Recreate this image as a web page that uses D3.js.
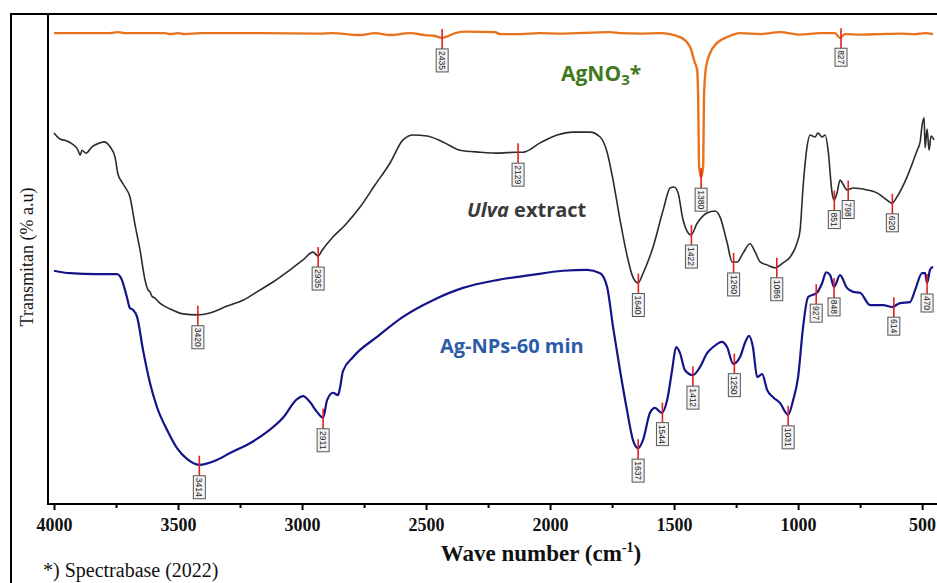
<!DOCTYPE html>
<html>
<head>
<meta charset="utf-8">
<script src="https://cdn.jsdelivr.net/npm/d3@7"></script>
<style>
  body { margin: 0; background: #fff; }
  svg { display: block; }
</style>
</head>
<body>
<svg id="chart"></svg>
<script>
// FTIR spectra: [wavenumber (cm-1), transmittance (% a.u.)]
const agno3 = [
  [4000, 96.1], [3895, 96.1], [3774, 96.1], [3742, 96.3], [3714, 96.1], [3552, 96.1],
  [3532, 95.9], [3500, 96.1], [3472, 95.9], [3411, 96.1], [3170, 96.1], [2927, 96.0],
  [2880, 96.1], [2766, 95.7], [2706, 96.1], [2645, 95.7], [2565, 96.1], [2504, 95.7],
  [2464, 95.5], [2436, 95.1], [2411, 95.5], [2383, 96.1], [2343, 96.4], [2222, 96.3],
  [2202, 95.9], [2121, 95.9], [2040, 96.1], [1960, 96.0], [1758, 96.3], [1718, 96.1],
  [1637, 96.0], [1557, 96.1], [1476, 95.3], [1436, 93.3], [1416, 90.0], [1407, 88.6],
  [1403, 83.1], [1399, 68.8], [1391, 66.7], [1383, 68.8], [1379, 83.9], [1371, 89.2],
  [1355, 92.0], [1327, 94.1], [1286, 95.3], [1234, 96.1], [1153, 95.9], [1073, 96.3],
  [992, 95.8], [911, 96.1], [851, 96.1], [831, 95.1], [811, 95.9], [750, 95.8],
  [670, 95.9], [589, 96.0], [528, 95.9], [488, 96.1], [456, 95.9]
];

const ulva = [
  [4000, 75.7], [3976, 74.5], [3948, 74.1], [3927, 73.5], [3903, 72.2], [3895, 71.2],
  [3887, 72.2], [3871, 71.6], [3847, 72.9], [3815, 73.7], [3798, 73.9], [3774, 72.9],
  [3754, 70.8], [3742, 67.3], [3726, 65.7], [3714, 64.7], [3694, 62.7], [3673, 56.9],
  [3653, 51.8], [3633, 45.7], [3621, 43.7], [3613, 43.3], [3605, 42.4], [3593, 42.0],
  [3573, 41.0], [3532, 39.8], [3480, 38.8], [3423, 38.6], [3371, 39.0], [3302, 40.4],
  [3238, 41.6], [3169, 43.7], [3117, 45.3], [3048, 47.8], [2996, 49.8], [2956, 51.4],
  [2935, 50.6], [2919, 51.8], [2879, 54.3], [2827, 56.9], [2766, 60.6], [2706, 65.1],
  [2645, 69.6], [2593, 74.3], [2552, 75.3], [2496, 75.1], [2432, 73.9], [2363, 72.2],
  [2282, 71.8], [2202, 71.6], [2141, 71.8], [2109, 71.8], [2040, 73.7], [1972, 75.3],
  [1907, 75.9], [1839, 75.9], [1798, 74.9], [1770, 71.8], [1746, 66.1], [1718, 58.0],
  [1690, 50.8], [1666, 46.3], [1645, 45.1], [1625, 47.1], [1585, 52.4], [1544, 60.0],
  [1516, 64.5], [1500, 64.7], [1484, 63.5], [1464, 58.0], [1432, 54.9], [1407, 57.3],
  [1367, 59.4], [1335, 59.8], [1315, 58.6], [1286, 53.3], [1266, 49.4], [1246, 49.4],
  [1222, 51.2], [1194, 53.1], [1173, 51.4], [1153, 49.4], [1125, 48.8], [1093, 48.2],
  [1061, 49.2], [1032, 50.4], [1004, 53.3], [992, 55.9], [980, 64.7], [964, 72.9],
  [952, 75.3], [932, 74.9], [920, 75.7], [903, 74.9], [891, 75.3], [879, 72.2],
  [863, 63.5], [855, 62.0], [843, 63.5], [831, 66.1], [819, 65.3], [803, 64.1],
  [778, 64.5], [722, 64.1], [682, 63.5], [641, 62.0], [621, 61.4], [601, 62.7],
  [561, 66.7], [520, 72.2], [508, 73.9], [500, 77.3], [492, 78.8], [488, 72.7],
  [480, 76.5], [472, 72.2], [464, 75.1], [452, 74.3]
];

const agnp = [
  [4000, 47.6], [3935, 47.1], [3827, 46.9], [3746, 46.9], [3726, 45.7], [3706, 42.2],
  [3694, 40.0], [3681, 39.6], [3665, 38.2], [3641, 31.4], [3613, 24.7], [3585, 19.8],
  [3544, 15.1], [3504, 11.4], [3464, 9.2], [3415, 8.0], [3343, 9.0], [3290, 10.4],
  [3210, 12.4], [3141, 14.7], [3077, 17.6], [3020, 21.4], [2996, 22.0], [2968, 20.8],
  [2940, 18.8], [2915, 17.6], [2899, 21.2], [2875, 22.7], [2855, 22.2], [2847, 23.7],
  [2835, 27.1], [2794, 30.0], [2698, 34.1], [2593, 38.2], [2472, 41.6], [2351, 44.1],
  [2214, 45.7], [2081, 46.7], [1948, 47.6], [1851, 47.8], [1798, 47.1], [1770, 44.3],
  [1746, 36.1], [1718, 27.3], [1690, 19.2], [1666, 13.1], [1645, 11.4], [1625, 13.1],
  [1597, 18.6], [1577, 19.6], [1549, 18.6], [1528, 21.2], [1508, 27.3], [1492, 32.0],
  [1476, 30.8], [1456, 27.3], [1424, 26.3], [1395, 28.0], [1367, 30.8], [1343, 32.0],
  [1307, 33.1], [1286, 32.0], [1262, 28.6], [1234, 30.0], [1214, 32.9], [1198, 34.3],
  [1182, 32.0], [1165, 25.9], [1145, 26.5], [1125, 23.3], [1101, 21.8], [1073, 20.6],
  [1040, 18.2], [1020, 21.2], [1000, 25.9], [980, 36.1], [960, 42.2], [924, 43.1],
  [903, 45.1], [887, 47.3], [871, 46.7], [855, 44.3], [831, 46.7], [803, 44.1],
  [778, 43.3], [750, 43.1], [710, 40.6], [657, 40.6], [621, 40.2], [589, 41.0],
  [549, 41.2], [528, 43.7], [500, 47.1], [488, 47.1], [480, 45.1], [468, 47.8], [456, 48.4]
];

// peak labels
const agno3Peaks = [2435, 1380, 827];
const ulvaPeaks = [3420, 2935, 2129, 1640, 1422, 1260, 1086, 851, 798, 620];
const agnpPeaks = [3414, 2911, 1637, 1544, 1412, 1250, 1031, 927, 848, 614, 470];

const xTicks = [4000, 3500, 3000, 2500, 2000, 1500, 1000, 500];
const xMinorTicks = [3750, 3250, 2750, 2250, 1750, 1250, 750];

const width = 937, height = 583;
const plot = { left: 48, top: 14, right: 937, bottom: 504 };
const serif = '"Liberation Serif", "Times New Roman", serif';

const svg = d3.select('#chart')
  .attr('width', width)
  .attr('height', height);

const x = d3.scaleLinear().domain([4000, 440]).range([54, 937]);
const y = d3.scaleLinear().domain([0, 100]).range([plot.bottom, plot.top]);

svg.append('clipPath').attr('id', 'clip')
  .append('rect')
  .attr('x', plot.left).attr('y', plot.top)
  .attr('width', plot.right - plot.left).attr('height', plot.bottom - plot.top);

// outer frame
svg.append('path')
  .attr('d', `M11,${height} L11,14 L${width},14`)
  .attr('fill', 'none')
  .attr('stroke', '#000')
  .attr('stroke-width', 2);

// axes
const xAxis = d3.axisBottom(x).tickValues(xTicks).tickSize(6).tickPadding(8)
  .tickFormat(d3.format('d'));
const gx = svg.append('g')
  .attr('transform', `translate(0,${plot.bottom})`)
  .call(xAxis);
gx.select('.domain').remove();
gx.selectAll('.tick line').attr('stroke-width', 2);
gx.selectAll('.tick text')
  .attr('font-family', serif)
  .attr('font-size', 18)
  .attr('font-weight', 'bold')
  .attr('fill', '#111');

const gxMinor = svg.append('g')
  .attr('transform', `translate(0,${plot.bottom})`)
  .call(d3.axisBottom(x).tickValues(xMinorTicks).tickSize(4).tickFormat(''));
gxMinor.select('.domain').remove();
gxMinor.selectAll('.tick line').attr('stroke-width', 2);

svg.append('path')
  .attr('d', `M${plot.left},${plot.top} L${plot.left},${plot.bottom} L${plot.right},${plot.bottom}`)
  .attr('fill', 'none')
  .attr('stroke', '#000')
  .attr('stroke-width', 2);

// axis titles
const xTitle = svg.append('text')
  .attr('x', 541).attr('y', 561)
  .attr('text-anchor', 'middle')
  .attr('font-family', serif)
  .attr('font-size', 23)
  .attr('font-weight', 'bold')
  .attr('fill', '#111')
  .text('Wave number (cm');
xTitle.append('tspan').attr('dy', -9).attr('font-size', 14).text('-1');
xTitle.append('tspan').attr('dy', 9).text(')');

svg.append('text')
  .attr('transform', 'translate(33,257) rotate(-90)')
  .attr('text-anchor', 'middle')
  .attr('font-family', serif)
  .attr('font-size', 18)
  .attr('fill', '#111')
  .text('Transmitan (% a.u)');

svg.append('text')
  .attr('x', 43).attr('y', 577)
  .attr('font-family', serif)
  .attr('font-size', 20)
  .attr('fill', '#111')
  .text('*) Spectrabase (2022)');

// spectra
const line = d3.line()
  .x(d => x(d[0]))
  .y(d => y(d[1]))
  .curve(d3.curveMonotoneX);

const series = [
  { data: agno3, color: '#e8731c', width: 2.4, peaks: agno3Peaks },
  { data: ulva, color: '#2b2b2b', width: 1.6, peaks: ulvaPeaks },
  { data: agnp, color: '#14148a', width: 2.2, peaks: agnpPeaks }
];

const curves = svg.append('g').attr('clip-path', 'url(#clip)');
series.forEach(s => {
  curves.append('path')
    .datum(s.data)
    .attr('fill', 'none')
    .attr('stroke', s.color)
    .attr('stroke-width', s.width)
    .attr('stroke-linejoin', 'round')
    .attr('d', line);
});

// linear interpolation of a spectrum (descending wavenumbers)
function valueAt(data, wn) {
  const i = d3.bisector(d => -d[0]).left(data, -wn);
  if (i <= 0) return data[0][1];
  if (i >= data.length) return data[data.length - 1][1];
  const a = data[i - 1], b = data[i];
  const t = (a[0] - wn) / (a[0] - b[0]);
  return a[1] + t * (b[1] - a[1]);
}

// find local minimum near the labelled wavenumber
function peakAt(data, wn) {
  let best = [wn, valueAt(data, wn)];
  for (let w = wn - 12; w <= wn + 12; w += 1) {
    const v = valueAt(data, w);
    if (v < best[1] - 0.3) best = [w, v];
  }
  return best;
}

const labels = svg.append('g');
series.forEach(s => {
  s.peaks.forEach(p => {
    const [pw, pv] = peakAt(s.data, p);
    const px = x(pw), py = y(pv);
    const txt = String(p);
    const boxH = txt.length > 3 ? 23 : 18;
    const boxW = 12;
    const boxTop = py + 11;
    labels.append('line')
      .attr('x1', px).attr('x2', px)
      .attr('y1', py - 9).attr('y2', boxTop)
      .attr('stroke', '#e0201c')
      .attr('stroke-width', 1.6);
    labels.append('rect')
      .attr('x', px - boxW / 2).attr('y', boxTop)
      .attr('width', boxW).attr('height', boxH)
      .attr('fill', '#f3f3f3')
      .attr('stroke', '#555')
      .attr('stroke-width', 1);
    labels.append('text')
      .attr('transform', `translate(${px},${boxTop + boxH / 2}) rotate(90)`)
      .attr('text-anchor', 'middle')
      .attr('dy', '0.35em')
      .attr('font-family', '"Liberation Sans", Arial, sans-serif')
      .attr('font-size', 8.5)
      .attr('fill', '#222')
      .text(txt);
  });
});

// series names
const agText = svg.append('text')
  .attr('x', 561).attr('y', 81)
  .attr('font-family', '"Open Sans", sans-serif')
  .attr('font-size', 21)
  .attr('font-weight', 'bold')
  .attr('fill', '#3f7a1e')
  .text('AgNO');
agText.append('tspan').attr('dy', 4).attr('font-size', 15).text('3');
agText.append('tspan').attr('dy', -4).text('*');

const ulvaText = svg.append('text')
  .attr('x', 467).attr('y', 217)
  .attr('font-family', '"Open Sans", sans-serif')
  .attr('font-size', 20)
  .attr('font-weight', 'bold')
  .attr('fill', '#3a3a3a');
ulvaText.append('tspan').attr('font-style', 'italic').text('Ulva');
ulvaText.append('tspan').text(' extract');

svg.append('text')
  .attr('x', 440).attr('y', 353)
  .attr('font-family', '"Open Sans", sans-serif')
  .attr('font-size', 20)
  .attr('font-weight', 'bold')
  .attr('fill', '#2c5ba8')
  .text('Ag-NPs-60 min');
</script>
</body>
</html>
